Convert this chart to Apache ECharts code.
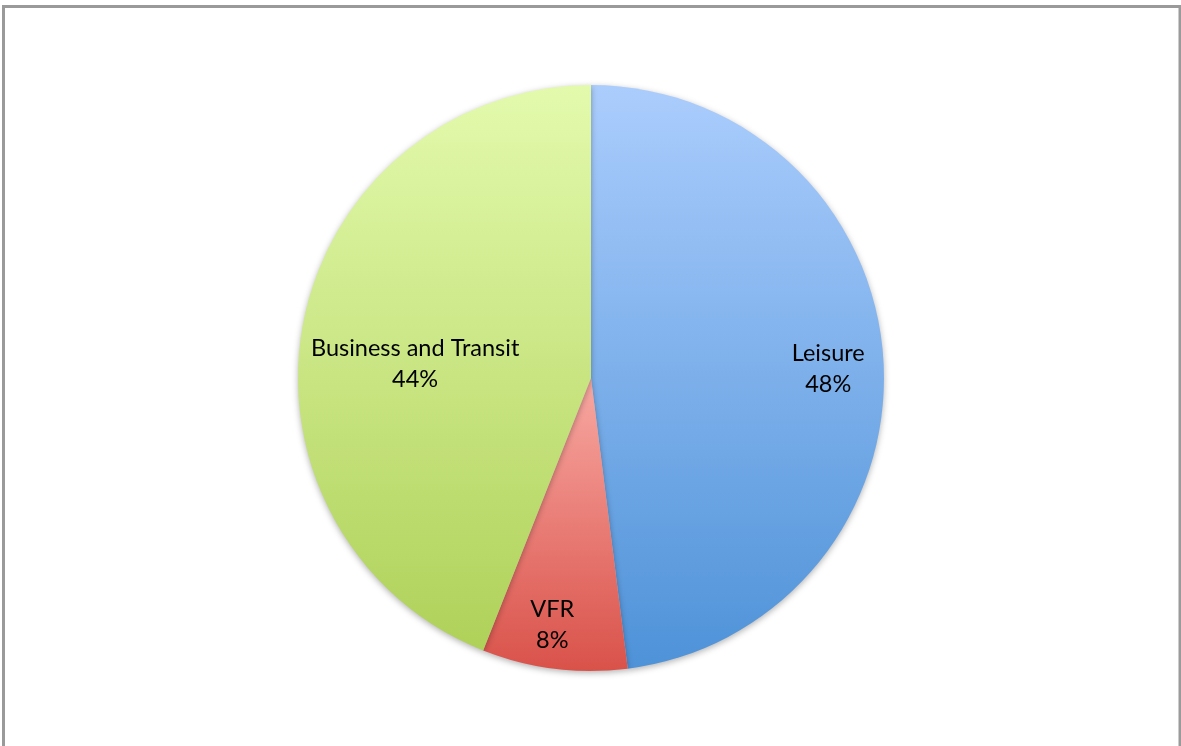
<!DOCTYPE html>
<html>
<head>
<meta charset="utf-8">
<script src="https://cdn.jsdelivr.net/npm/echarts@6/dist/echarts.min.js"></script>
<style>
  html, body { margin: 0; padding: 0; background: #fff; }
  #chart { width: 1181px; height: 746px; }
</style>
</head>
<body>
<div id="chart"></div>
<script>
// Purpose of visit shares (percent)
const categories = ['Leisure', 'VFR', 'Business and Transit'];
const shares = [48, 8, 44];

// Vertical gradient (top colour, bottom colour) for each slice
const sliceColors = [
  ['#abcdfd', '#4e92d8'],
  ['#f8a8a2', '#d9524a'],
  ['#e3faad', '#afd159']
];
// Label offsets from the default inside position
const labelOffsets = [
  [88, 0],
  [-20, 99],
  [-29, 14]
];

const chart = echarts.init(document.getElementById('chart'), null, { renderer: 'canvas' });

const data = categories.map((name, i) => ({
  name: name,
  value: shares[i],
  itemStyle: {
    color: new echarts.graphic.LinearGradient(0, 0, 0, 1, [
      { offset: 0, color: sliceColors[i][0] },
      { offset: 1, color: sliceColors[i][1] }
    ])
  }
}));

chart.setOption({
  animation: false,
  backgroundColor: '#ffffff',
  graphic: [{
    type: 'rect',
    shape: { x: 3.5, y: 6.5, width: 1176.5, height: 760 },
    style: { fill: 'none', stroke: '#9a9a9a', lineWidth: 3 },
    silent: true
  }],
  series: [{
    type: 'pie',
    center: [591, 378],
    radius: [0, 293],
    startAngle: 90,
    clockwise: true,
    silent: true,
    itemStyle: {
      borderWidth: 0,
      shadowBlur: 6,
      shadowOffsetY: 2,
      shadowColor: 'rgba(0,0,0,0.3)'
    },
    label: {
      show: true,
      position: 'inside',
      formatter: p => p.name + '\n' + p.value + '%',
      color: '#000',
      fontFamily: 'Lato',
      fontSize: 23.5,
      lineHeight: 31,
      align: 'center'
    },
    labelLine: { show: false },
    labelLayout: params => {
      const off = labelOffsets[params.dataIndex];
      return { dx: off[0], dy: off[1] };
    },
    data: data
  }]
});
</script>
</body>
</html>
